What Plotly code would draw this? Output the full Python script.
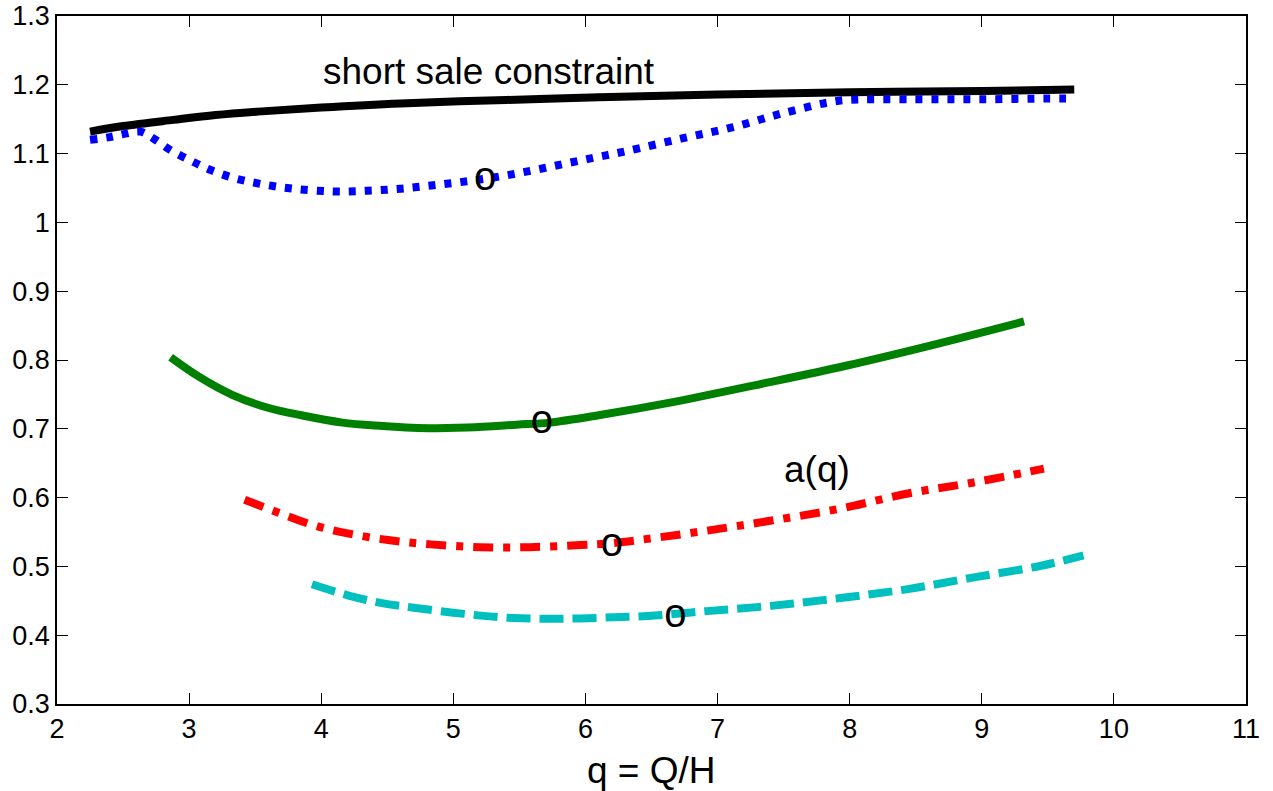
import plotly.graph_objects as go

# ---- data ----
black_x = [2.25, 2.5, 2.88, 3.2, 3.52, 4.0, 4.6, 5.4, 6.1, 7.0, 8.0, 9.0, 9.7]
black_y = [1.132, 1.140, 1.149, 1.156, 1.161, 1.167, 1.173, 1.178, 1.182, 1.186, 1.189, 1.191, 1.193]

blue_x = [2.25, 2.40, 2.52, 2.63, 2.73, 2.86, 3.01, 3.14, 3.33, 3.54, 3.79, 4.09, 4.35, 4.60,
          4.85, 5.11, 5.36, 5.61, 5.86, 6.09, 6.32, 6.73, 7.11, 7.48, 7.83, 7.98, 8.5, 9.0, 9.5, 9.7]
blue_y = [1.120, 1.124, 1.129, 1.132, 1.122, 1.105, 1.090, 1.078, 1.065, 1.056, 1.049, 1.045,
          1.046, 1.049, 1.054, 1.060, 1.067, 1.076, 1.086, 1.095, 1.104, 1.122, 1.138, 1.158,
          1.174, 1.178, 1.179, 1.179, 1.180, 1.180]

green_x = [2.86, 3.08, 3.33, 3.59, 3.84, 4.16, 4.47, 4.73, 5.11, 5.48, 5.73, 6.11, 6.64, 7.35,
           7.98, 8.61, 9.32]
green_y = [0.804, 0.775, 0.749, 0.731, 0.720, 0.709, 0.704, 0.701, 0.702, 0.706, 0.709, 0.720,
           0.738, 0.766, 0.792, 0.821, 0.856]

red_x = [3.42, 3.69, 3.94, 4.20, 4.52, 4.83, 5.20, 5.58, 5.96, 6.21, 6.47, 6.92, 7.42, 7.93,
         8.44, 8.94, 9.47]
red_y = [0.597, 0.577, 0.560, 0.548, 0.538, 0.532, 0.528, 0.528, 0.531, 0.534, 0.540, 0.552,
         0.567, 0.584, 0.606, 0.622, 0.642]

cyan_x = [3.93, 4.20, 4.45, 4.70, 5.08, 5.45, 5.83, 6.21, 6.47, 6.92, 7.42, 7.93, 8.44, 8.94,
          9.45, 9.77]
cyan_y = [0.474, 0.458, 0.447, 0.440, 0.431, 0.425, 0.424, 0.426, 0.428, 0.435, 0.443, 0.454,
          0.467, 0.484, 0.501, 0.516]

mark_x = [5.24, 5.67, 6.20, 6.68]
mark_y = [1.061, 0.708, 0.530, 0.427]

x_ticks = [2, 3, 4, 5, 6, 7, 8, 9, 10, 11]
y_ticks = [0.3, 0.4, 0.5, 0.6, 0.7, 0.8, 0.9, 1.0, 1.1, 1.2, 1.3]
y_ticktext = ["0.3", "0.4", "0.5", "0.6", "0.7", "0.8", "0.9", "1", "1.1", "1.2", "1.3"]

FONT = "Liberation Sans, Arial, Helvetica, sans-serif"
LW = 8

fig = go.Figure()
fig.add_trace(go.Scatter(x=black_x, y=black_y, mode="lines", line_shape="spline",
                         line=dict(color="black", width=LW)))
fig.add_trace(go.Scatter(x=blue_x, y=blue_y, mode="lines", line_shape="spline",
                         line=dict(color="#0000ff", width=LW, dash="7px,9px")))
fig.add_trace(go.Scatter(x=green_x, y=green_y, mode="lines", line_shape="spline",
                         line=dict(color="#008000", width=LW)))
fig.add_trace(go.Scatter(x=red_x, y=red_y, mode="lines", line_shape="spline",
                         line=dict(color="#ff0000", width=LW, dash="20px,10px,7px,10px")))
fig.add_trace(go.Scatter(x=cyan_x, y=cyan_y, mode="lines", line_shape="spline",
                         line=dict(color="#00bfbf", width=LW, dash="24px,9px")))
fig.add_trace(go.Scatter(x=mark_x, y=mark_y, mode="text", text=["o"] * len(mark_x),
                         textposition="middle center",
                         textfont=dict(family=FONT, size=40, color="black")))

fig.add_annotation(x=4.0, y=1.219, xref="x", yref="y", text="short sale constraint",
                   showarrow=False, xanchor="left", yanchor="middle",
                   font=dict(family=FONT, size=37, color="black"))
fig.add_annotation(x=7.49, y=0.641, xref="x", yref="y", text="a(q)",
                   showarrow=False, xanchor="left", yanchor="middle",
                   font=dict(family=FONT, size=37, color="black"))
fig.add_annotation(x=0.5, y=-0.097, xref="paper", yref="paper", text="q = Q/H",
                   showarrow=False, xanchor="center", yanchor="middle",
                   font=dict(family=FONT, size=37, color="black"))

axis_common = dict(showline=True, linecolor="black", linewidth=1.5, mirror="ticks",
                   ticks="inside", ticklen=11, tickwidth=1, tickcolor="black",
                   showgrid=False, zeroline=False, automargin=False,
                   tickfont=dict(family=FONT, size=27, color="black"))
fig.update_xaxes(range=[2, 11], tickvals=x_ticks, **axis_common)
fig.update_yaxes(range=[0.3, 1.3], tickvals=y_ticks, ticktext=y_ticktext, **axis_common)

fig.update_layout(width=1273, height=791, margin=dict(l=57, r=27, t=16, b=87),
                  paper_bgcolor="white", plot_bgcolor="white", showlegend=False)

fig.write_html("out.html")
